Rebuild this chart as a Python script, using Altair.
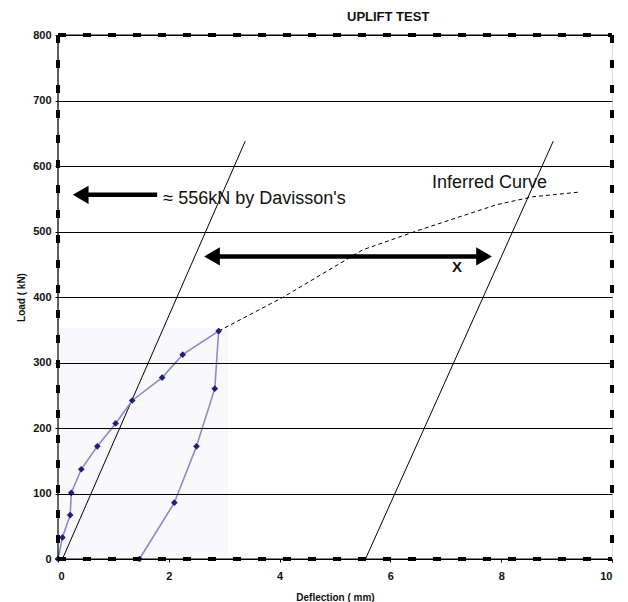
import altair as alt
import pandas as pd

FONT = "Liberation Sans"

# ---- data ----
test_defl = [0, 0.08, 0.22, 0.24, 0.42, 0.71, 1.04, 1.34, 1.88, 2.25, 2.90, 2.83, 2.50, 2.10, 1.47]
test_load = [0, 33, 67, 101, 137, 172, 207, 242, 277, 312, 348, 260, 172, 86, 0]

inferred_defl = [2.90, 4.07, 5.50, 6.48, 7.92, 8.57, 9.39]
inferred_load = [348, 400, 472, 501, 541, 553, 560]

davisson_names = ["elastic", "elastic", "offset", "offset"]
davisson_defl = [0.08, 3.38, 5.55, 8.94]
davisson_load = [0, 638, 0, 638]

shade_defl = [0, 3.07]
shade_load = [0, 353]

x_ticks = [0, 2, 4, 6, 8, 10]
y_ticks = [0, 100, 200, 300, 400, 500, 600, 700, 800]

davisson_capacity = 556
arrow1_defl = [0.25, 1.79]
arrow2_defl = [2.62, 7.85]
arrow2_load = 462

labels_text = ["\u2248 556kN by Davisson's", "Inferred Curve", "X"]
labels_defl = [1.90, 6.75, 7.20]
labels_load = [550, 574, 446]

title_text = ["UPLIFT TEST"]
title_defl = [5.96]
title_load = [827]

# ---- frames ----
test_df = pd.DataFrame({"defl": test_defl, "load": test_load, "i": range(len(test_defl))})
inf_df = pd.DataFrame({"defl": inferred_defl, "load": inferred_load, "i": range(len(inferred_defl))})
dav_df = pd.DataFrame({"name": davisson_names, "defl": davisson_defl, "load": davisson_load})
shade_df = pd.DataFrame({"x": [shade_defl[0]], "x2": [shade_defl[1]], "y": [shade_load[0]], "y2": [shade_load[1]]})

head_off = 0.16  # half of arrow head in mm
arrow_rules = pd.DataFrame({
    "x": [arrow1_defl[0] + head_off, arrow2_defl[0] + head_off],
    "x2": [arrow1_defl[1], arrow2_defl[1] - head_off],
    "y": [davisson_capacity, arrow2_load],
})
heads_left = pd.DataFrame({"x": [arrow1_defl[0] + head_off, arrow2_defl[0] + head_off],
                           "y": [davisson_capacity, arrow2_load]})
heads_right = pd.DataFrame({"x": [arrow2_defl[1] - head_off], "y": [arrow2_load]})
lab_df = pd.DataFrame({"t": labels_text, "x": labels_defl, "y": labels_load})
title_df = pd.DataFrame({"t": title_text, "x": title_defl, "y": title_load})

xs = alt.Scale(domain=[0, 10], nice=False)
ys = alt.Scale(domain=[0, 800], nice=False)

X = alt.X("defl:Q", scale=xs, axis=alt.Axis(
    values=x_ticks, title="Deflection ( mm)", grid=False, domain=False,
    tickSize=3, tickColor="black", labelPadding=8, labelFont=FONT, labelFontSize=11,
    labelFontWeight="bold", labelColor="#111", titleFont=FONT, titleFontSize=10,
    titleFontWeight="bold", titleColor="#111", titleY=38, titleBaseline="middle"))
Y = alt.Y("load:Q", scale=ys, axis=alt.Axis(
    values=y_ticks, title="Load ( kN)", grid=True, gridColor="black", gridWidth=1,
    domain=False, tickSize=3, tickColor="black", labelPadding=4, labelFont=FONT,
    labelFontSize=11, labelFontWeight="bold", labelColor="#111", titleFont=FONT,
    titleFontSize=10, titleFontWeight="bold", titleColor="#111", titleX=-37,
    titleY=262, titleAngle=-90, titleAlign="center", titleBaseline="middle", zindex=1))

shade = alt.Chart(shade_df).mark_rect(color="#f9f9fc").encode(
    x=alt.X("x:Q", scale=xs), x2="x2", y=alt.Y("y:Q", scale=ys), y2="y2")

base_axes = alt.Chart(test_df).mark_point(opacity=0).encode(x=X, y=Y)

dav = alt.Chart(dav_df).mark_line(color="black", strokeWidth=1).encode(
    x=alt.X("defl:Q", scale=xs), y=alt.Y("load:Q", scale=ys), detail="name:N")

inferred = alt.Chart(inf_df).mark_line(color="black", strokeWidth=1, strokeDash=[4, 3]).encode(
    x=alt.X("defl:Q", scale=xs), y=alt.Y("load:Q", scale=ys), order="i:Q")

test_line = alt.Chart(test_df).mark_line(color="#8b8bc6", strokeWidth=1.6).encode(
    x=alt.X("defl:Q", scale=xs), y=alt.Y("load:Q", scale=ys), order="i:Q")
test_pts = alt.Chart(test_df).mark_point(shape="diamond", filled=True, color="#1f1f7c",
                                         size=45, opacity=1).encode(
    x=alt.X("defl:Q", scale=xs), y=alt.Y("load:Q", scale=ys))

arr = alt.Chart(arrow_rules).mark_rule(color="black", strokeWidth=4.5).encode(
    x=alt.X("x:Q", scale=xs), x2="x2", y=alt.Y("y:Q", scale=ys))
hl = alt.Chart(heads_left).mark_point(shape="triangle-left", filled=True, color="black",
                                      size=330, opacity=1).encode(
    x=alt.X("x:Q", scale=xs), y=alt.Y("y:Q", scale=ys))
hr = alt.Chart(heads_right).mark_point(shape="triangle-right", filled=True, color="black",
                                       size=330, opacity=1).encode(
    x=alt.X("x:Q", scale=xs), y=alt.Y("y:Q", scale=ys))

big_txt = alt.Chart(lab_df.iloc[:2]).mark_text(font=FONT, fontSize=18, color="#111",
                                               align="left", baseline="middle").encode(
    x=alt.X("x:Q", scale=xs), y=alt.Y("y:Q", scale=ys), text="t:N")
x_txt = alt.Chart(lab_df.iloc[2:]).mark_text(font=FONT, fontSize=15, fontWeight="bold",
                                             color="#111", align="center",
                                             baseline="middle").encode(
    x=alt.X("x:Q", scale=xs), y=alt.Y("y:Q", scale=ys), text="t:N")
title_mark = alt.Chart(title_df).mark_text(font=FONT, fontSize=13, fontWeight="bold",
                                           color="#111", align="center",
                                           baseline="middle").encode(
    x=alt.X("x:Q", scale=xs), y=alt.Y("y:Q", scale=ys), text="t:N")

# ---- frame: thin solid (top, left, bottom) + thick dashes on all sides ----
solid_top = alt.Chart().mark_rule(color="black", strokeWidth=1).encode(
    x=alt.datum(0, scale=xs), x2=alt.datum(10), y=alt.datum(800, scale=ys))
solid_bot = alt.Chart().mark_rule(color="black", strokeWidth=1).encode(
    x=alt.datum(0, scale=xs), x2=alt.datum(10), y=alt.datum(0, scale=ys))
solid_left = alt.Chart().mark_rule(color="black", strokeWidth=1.2).encode(
    x=alt.datum(0, scale=xs), y=alt.datum(0, scale=ys), y2=alt.datum(800))
dash_kw = dict(color="black", strokeWidth=4, strokeDash=[8, 17])
d_top = alt.Chart().mark_rule(**dash_kw).encode(
    x=alt.datum(0, scale=xs), x2=alt.datum(10), y=alt.datum(800, scale=ys))
d_bot = alt.Chart().mark_rule(**dash_kw).encode(
    x=alt.datum(0, scale=xs), x2=alt.datum(10), y=alt.datum(0, scale=ys))
d_left = alt.Chart().mark_rule(**dash_kw).encode(
    x=alt.datum(0, scale=xs), y=alt.datum(800, scale=ys), y2=alt.datum(0))
d_right = alt.Chart().mark_rule(**dash_kw).encode(
    x=alt.datum(10, scale=xs), y=alt.datum(800, scale=ys), y2=alt.datum(0))

chart = alt.layer(
    shade, base_axes, dav, inferred, test_line, test_pts, arr, hl, hr, big_txt, x_txt,
    title_mark, solid_top, solid_bot, solid_left, d_top, d_bot, d_left, d_right,
).properties(
    width=554, height=524,
    padding={"left": 50, "top": 27, "right": 8, "bottom": 43},
    autosize=alt.AutoSizeParams(type="none"),
).configure_view(stroke=None).configure(background="white")

chart.save("out.html", embed_options={"renderer": "svg", "actions": False})
